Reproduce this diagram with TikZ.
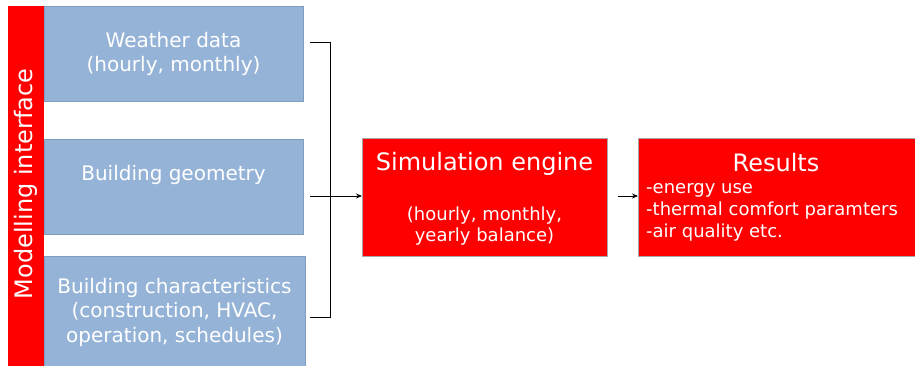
\documentclass[tikz,border=0pt]{standalone}
\usepackage{fontspec}
\setmainfont{DejaVu Sans}
\usetikzlibrary{arrows.meta}
\definecolor{inbox}{HTML}{95B3D7}
\definecolor{inedge}{HTML}{7F9DBF}
\definecolor{hotred}{HTML}{FF0000}
\definecolor{rededge}{HTML}{A8A8A8}
\tikzset{
  inputbox/.style={draw=inedge, fill=inbox, line width=0.8pt, anchor=north west, inner sep=0pt},
  redbox/.style={draw=rededge, fill=hotred, line width=0.8pt, anchor=north west, inner sep=0pt},
  wtext/.style={text=white, align=center, inner sep=0pt},
  flow/.style={line width=0.8pt, -{Stealth[length=6pt,width=5pt]}},
  brace/.style={line width=0.8pt}
}
\begin{document}
\begin{tikzpicture}[x=1pt,y=-1pt]
\useasboundingbox (0,0) rectangle (915,366);
\clip (0,0) rectangle (915,366);

% side bar
\node[redbox, draw=none, minimum width=36pt, minimum height=364pt] (bar) at (8,6) {};
\node[wtext, rotate=90, font=\fontsize{24}{28}\selectfont] (barlbl) at (26,184) {Modelling interface};

% input boxes
\node[inputbox, minimum width=259pt, minimum height=95pt] (w) at (44,6) {};
\node[inputbox, minimum width=259pt, minimum height=95pt] (g) at (44,139) {};
\node[inputbox, minimum width=261pt, minimum height=120pt] (c) at (44,256) {};

\node[wtext, font=\fontsize{20}{24}\selectfont] (wl) at (173.5,54) {Weather data\\(hourly, monthly)};
\node[wtext, font=\fontsize{20}{24}\selectfont] (gl) at (173.5,175) {Building geometry};
\node[wtext, font=\fontsize{20}{24.5}\selectfont] (cl) at (174.5,312) {Building characteristics\\(construction, HVAC,\\operation, schedules)};

% simulation engine
\node[redbox, minimum width=245pt, minimum height=118pt] (sim) at (362,138) {};
\node[wtext, font=\fontsize{24}{28}\selectfont] (simt) at (484.5,164) {Simulation engine};
\node[wtext, font=\fontsize{18}{21.5}\selectfont] (sims) at (484.5,226) {(hourly, monthly,\\yearly balance)};

% results
\node[redbox, minimum width=300pt, minimum height=118pt] (res) at (638,138) {};
\node[wtext, font=\fontsize{24}{28}\selectfont] (rest) at (776,163) {Results};
\node[wtext, align=left, anchor=north west, font=\fontsize{18}{22}\selectfont] (resl) at (646,183) {-energy use\\-thermal comfort paramters\\-air quality etc.};

% bracket gathering the inputs
\coordinate (bt0) at (310,42);
\coordinate (bt1) at (330,42);
\coordinate (bb1) at (330,317);
\coordinate (bb0) at (310,317);
\coordinate (bm0) at (310,196);
\coordinate (bm1) at (330,196);
\draw[brace] (bt0) -- (bt1) -- (bb1) -- (bb0);
\draw[brace] (bm0) -- (bm1);

% flow arrows
\draw[flow] (bm1) -- (bm1 -| sim.west);
\draw[flow, shorten <=10pt] (sim.east |- bm1) -- (res.west |- bm1);
\end{tikzpicture}
\end{document}
